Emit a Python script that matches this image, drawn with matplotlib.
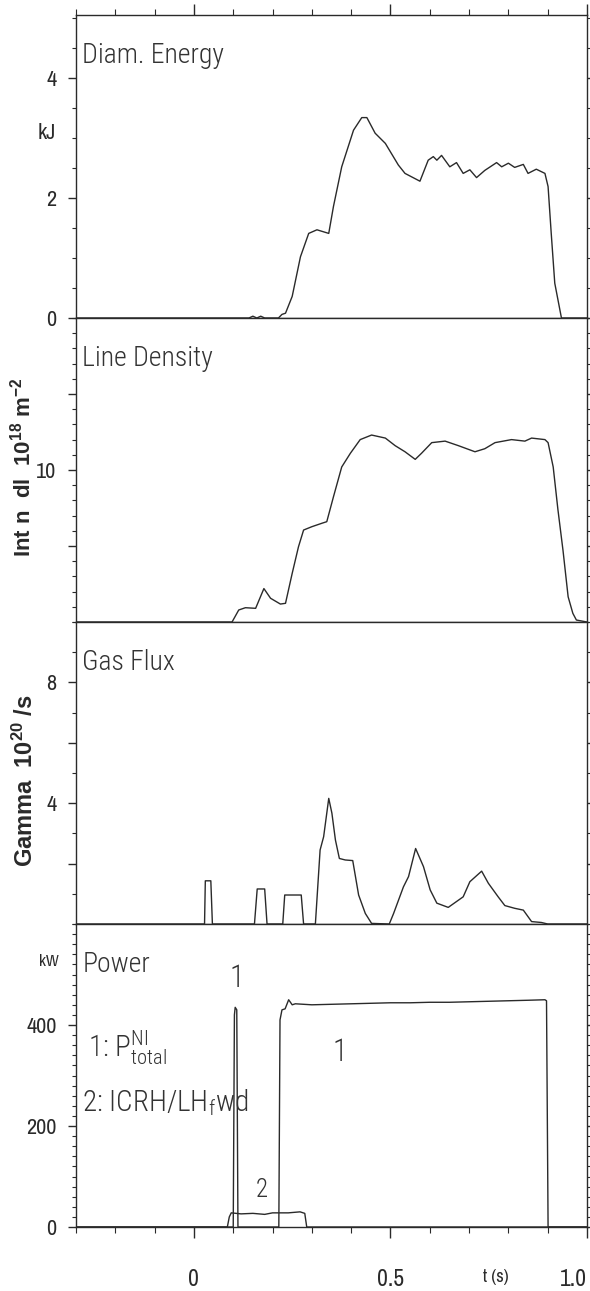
import numpy as np
import matplotlib
matplotlib.use("Agg")
import matplotlib.pyplot as plt
from matplotlib.ticker import MultipleLocator

# ---- data (t in seconds) ----
energy_t = [-0.30, 0.14, 0.15, 0.16, 0.17, 0.18, 0.215, 0.224, 0.233, 0.25, 0.271, 0.292, 0.313,
            0.343, 0.355, 0.376, 0.406, 0.427, 0.44, 0.461, 0.487, 0.52, 0.537, 0.575, 0.596,
            0.609, 0.618, 0.63, 0.651, 0.668, 0.685, 0.702, 0.719, 0.74, 0.77, 0.783, 0.80,
            0.816, 0.838, 0.85, 0.871, 0.893, 0.901, 0.909, 0.918, 0.935, 1.0]
energy_kj = [0, 0, 0.03, 0, 0.03, 0, 0, 0.06, 0.08, 0.36, 1.02, 1.41, 1.47,
             1.41, 1.86, 2.52, 3.13, 3.34, 3.34, 3.08, 2.91, 2.55, 2.41, 2.28, 2.63,
             2.69, 2.63, 2.71, 2.52, 2.59, 2.41, 2.47, 2.34, 2.46, 2.59, 2.52, 2.58,
             2.51, 2.56, 2.41, 2.48, 2.41, 2.19, 1.41, 0.58, 0, 0]

dens_t = [-0.30, 0.097, 0.114, 0.131, 0.157, 0.178, 0.195, 0.22, 0.233, 0.25, 0.266, 0.279,
          0.30, 0.326, 0.338, 0.355, 0.376, 0.398, 0.423, 0.452, 0.487, 0.512, 0.537,
          0.563, 0.579, 0.605, 0.639, 0.673, 0.715, 0.74, 0.766, 0.808, 0.842, 0.859,
          0.893, 0.901, 0.914, 0.926, 0.939, 0.952, 0.964, 0.973, 1.0]
dens_val = [0, 0, 0.79, 0.94, 0.90, 2.2, 1.56, 1.18, 1.23, 3.2, 4.95, 6.05,
            6.27, 6.5, 6.6, 8.24, 10.2, 11.1, 12.0, 12.3, 12.1, 11.6, 11.2,
            10.7, 11.1, 11.8, 11.9, 11.6, 11.2, 11.4, 11.8, 12.0, 11.9, 12.1,
            12.0, 11.8, 10.2, 7.4, 4.7, 1.66, 0.57, 0.13, 0]

gas_t = [-0.30, 0.027, 0.029, 0.043, 0.047, 0.154, 0.161, 0.18, 0.186, 0.226, 0.231, 0.273,
         0.279, 0.309, 0.321, 0.33, 0.343, 0.351, 0.36, 0.37, 0.385, 0.404, 0.419, 0.436,
         0.452, 0.497, 0.508, 0.533, 0.546, 0.564, 0.584, 0.601, 0.618, 0.647, 0.685,
         0.702, 0.732, 0.749, 0.774, 0.791, 0.816, 0.838, 0.859, 0.884, 0.90, 1.0]
gas_val = [0, 0, 1.43, 1.43, 0, 0, 1.16, 1.16, 0, 0, 0.96, 0.96,
           0, 0, 2.45, 2.89, 4.16, 3.67, 2.78, 2.17, 2.12, 2.1, 0.96, 0.35,
           0.02, 0, 0.35, 1.23, 1.57, 2.5, 1.9, 1.13, 0.69, 0.55, 0.9,
           1.4, 1.75, 1.35, 0.9, 0.61, 0.52, 0.46, 0.08, 0.05, 0, 0]

nbi_t = [-0.30, 0.100, 0.103, 0.105, 0.109, 0.112, 0.216, 0.219, 0.224, 0.232, 0.241, 0.25,
         0.258, 0.30, 0.35, 0.40, 0.45, 0.50, 0.55, 0.60, 0.65, 0.70, 0.75, 0.80, 0.85,
         0.893, 0.897, 0.901, 1.0]
nbi_kw = [0, 0, 420, 435, 430, 0, 0, 410, 430, 432, 450, 440,
          442, 440, 441, 442, 443, 444, 444, 445, 445, 446, 447, 448, 449,
          450, 448, 0, 0]

rf_t = [-0.30, 0.085, 0.09, 0.095, 0.12, 0.15, 0.18, 0.20, 0.24, 0.27, 0.282, 0.287, 1.0]
rf_kw = [0, 0, 20, 28, 26, 27, 25, 28, 28, 30, 27, 0, 0]

titles = ["Diam. Energy", "Line Density", "Gas Flux", "Power"]

thin = dict(family=["Roboto Condensed", "DejaVu Sans"], fontweight="light")
plt.rcParams["font.family"] = ["Archivo Narrow", "DejaVu Sans"]
plt.rcParams["mathtext.fontset"] = "custom"
plt.rcParams["mathtext.rm"] = "Roboto Condensed:light"
plt.rcParams["mathtext.bf"] = "Liberation Sans:bold"

W, H = 590, 1291
fig = plt.figure(figsize=(W / 100, H / 100), dpi=100)
ink = "#2a2a2a"
soft = "#333333"

left, right = 76, 587
edges = [15, 318, 622, 924, 1227]
axes = []
for i in range(4):
    top, bot = edges[i], edges[i + 1]
    ax = fig.add_axes([left / W, (H - bot) / H, (right - left) / W, (bot - top) / H])
    ax.set_xlim(-0.3, 1.0)
    for s in ax.spines.values():
        s.set_color(ink)
        s.set_linewidth(1.0)
    ax.tick_params(axis="y", which="both", direction="out", left=True, right=True,
                   colors=ink, labelsize=16, pad=8)
    ax.tick_params(axis="y", which="major", length=6, width=1)
    ax.tick_params(axis="y", which="minor", length=3, width=0.8)
    ax.xaxis.set_major_locator(MultipleLocator(0.5))
    ax.xaxis.set_minor_locator(MultipleLocator(0.1))
    ax.tick_params(axis="x", which="both", top=(i == 0), bottom=(i == 3), direction="out",
                   labelbottom=(i == 3), colors=ink, labelsize=17, pad=22)
    ax.tick_params(axis="x", which="major", length=8, width=1)
    ax.tick_params(axis="x", which="minor", length=4, width=0.8)
    ax.text(0.012, 0.91, titles[i], transform=ax.transAxes, fontsize=20,
            color=soft, va="top", ha="left", **thin)
    axes.append(ax)

ax1, ax2, ax3, ax4 = axes

ax1.plot(energy_t, energy_kj, color=ink, lw=1.0)
ax1.set_ylim(0, 5.05)
ax1.set_yticks([0, 2, 4])
ax1.yaxis.set_minor_locator(MultipleLocator(0.5))
ax1.text(-0.35, 3.08, "kJ", fontsize=16, color=ink, ha="right", va="center")

ax2.plot(dens_t, dens_val, color=ink, lw=1.0)
ax2.set_ylim(0, 20)
ax2.set_yticks([5, 10, 15])
ax2.set_yticklabels(["", "10", ""])
ax2.yaxis.set_minor_locator(MultipleLocator(1))

ax3.plot(gas_t, gas_val, color=ink, lw=1.0)
ax3.set_ylim(0, 10)
ax3.set_yticks([2, 4, 6, 8])
ax3.set_yticklabels(["", "4", "", "8"])
ax3.yaxis.set_minor_locator(MultipleLocator(1))

ax4.plot(nbi_t, nbi_kw, color=ink, lw=1.0)
ax4.plot(rf_t, rf_kw, color=ink, lw=1.0)
ax4.set_ylim(0, 600)
ax4.set_yticks([0, 200, 400])
ax4.yaxis.set_minor_locator(MultipleLocator(20))
ax4.set_xticks([0, 0.5, 1.0])
ax4.set_xticklabels(["0", "0.5", "1.0"])
ax4.get_xticklabels()[-1].set_horizontalalignment("right")
ax4.text(-0.37, 525, "kW", fontsize=12, color=ink, ha="center", va="center")
ax4.text(0.108, 493, "1", fontsize=22, color=soft, ha="center", va="center", **thin)
ax4.text(0.372, 345, "1", fontsize=22, color=soft, ha="center", va="center", **thin)
ax4.text(0.173, 73, "2", fontsize=18, color=soft, ha="center", va="center", **thin)
ax4.text(-0.27, 355, r"1: P$^{\rm NI}_{\rm total}$", fontsize=21, color=soft,
         ha="left", va="center", **thin)
ax4.text(-0.285, 246, r"2: ICRH/LH$_{\rm f}$wd", fontsize=21, color=soft,
         ha="left", va="center", **thin)

fig.text(496 / W, 1 - 1277 / H, "t (s)", fontsize=13, color=ink, ha="center", va="center")

fig.text(23 / W, 1 - 467 / H, r"Int n  dl  $\mathbf{10^{18}}$ m$\mathbf{^{-2}}$",
         rotation=90, fontsize=16, fontweight="bold", color=ink, ha="center", va="center",
         family=["Liberation Sans", "DejaVu Sans"])
fig.text(25 / W, 1 - 781 / H, r"Gamma  $\mathbf{10^{20}}$ /s",
         rotation=90, fontsize=17, fontweight="bold", color=ink, ha="center", va="center",
         family=["Liberation Sans", "DejaVu Sans"])

fig.savefig("out.png", dpi=100, facecolor="white")
